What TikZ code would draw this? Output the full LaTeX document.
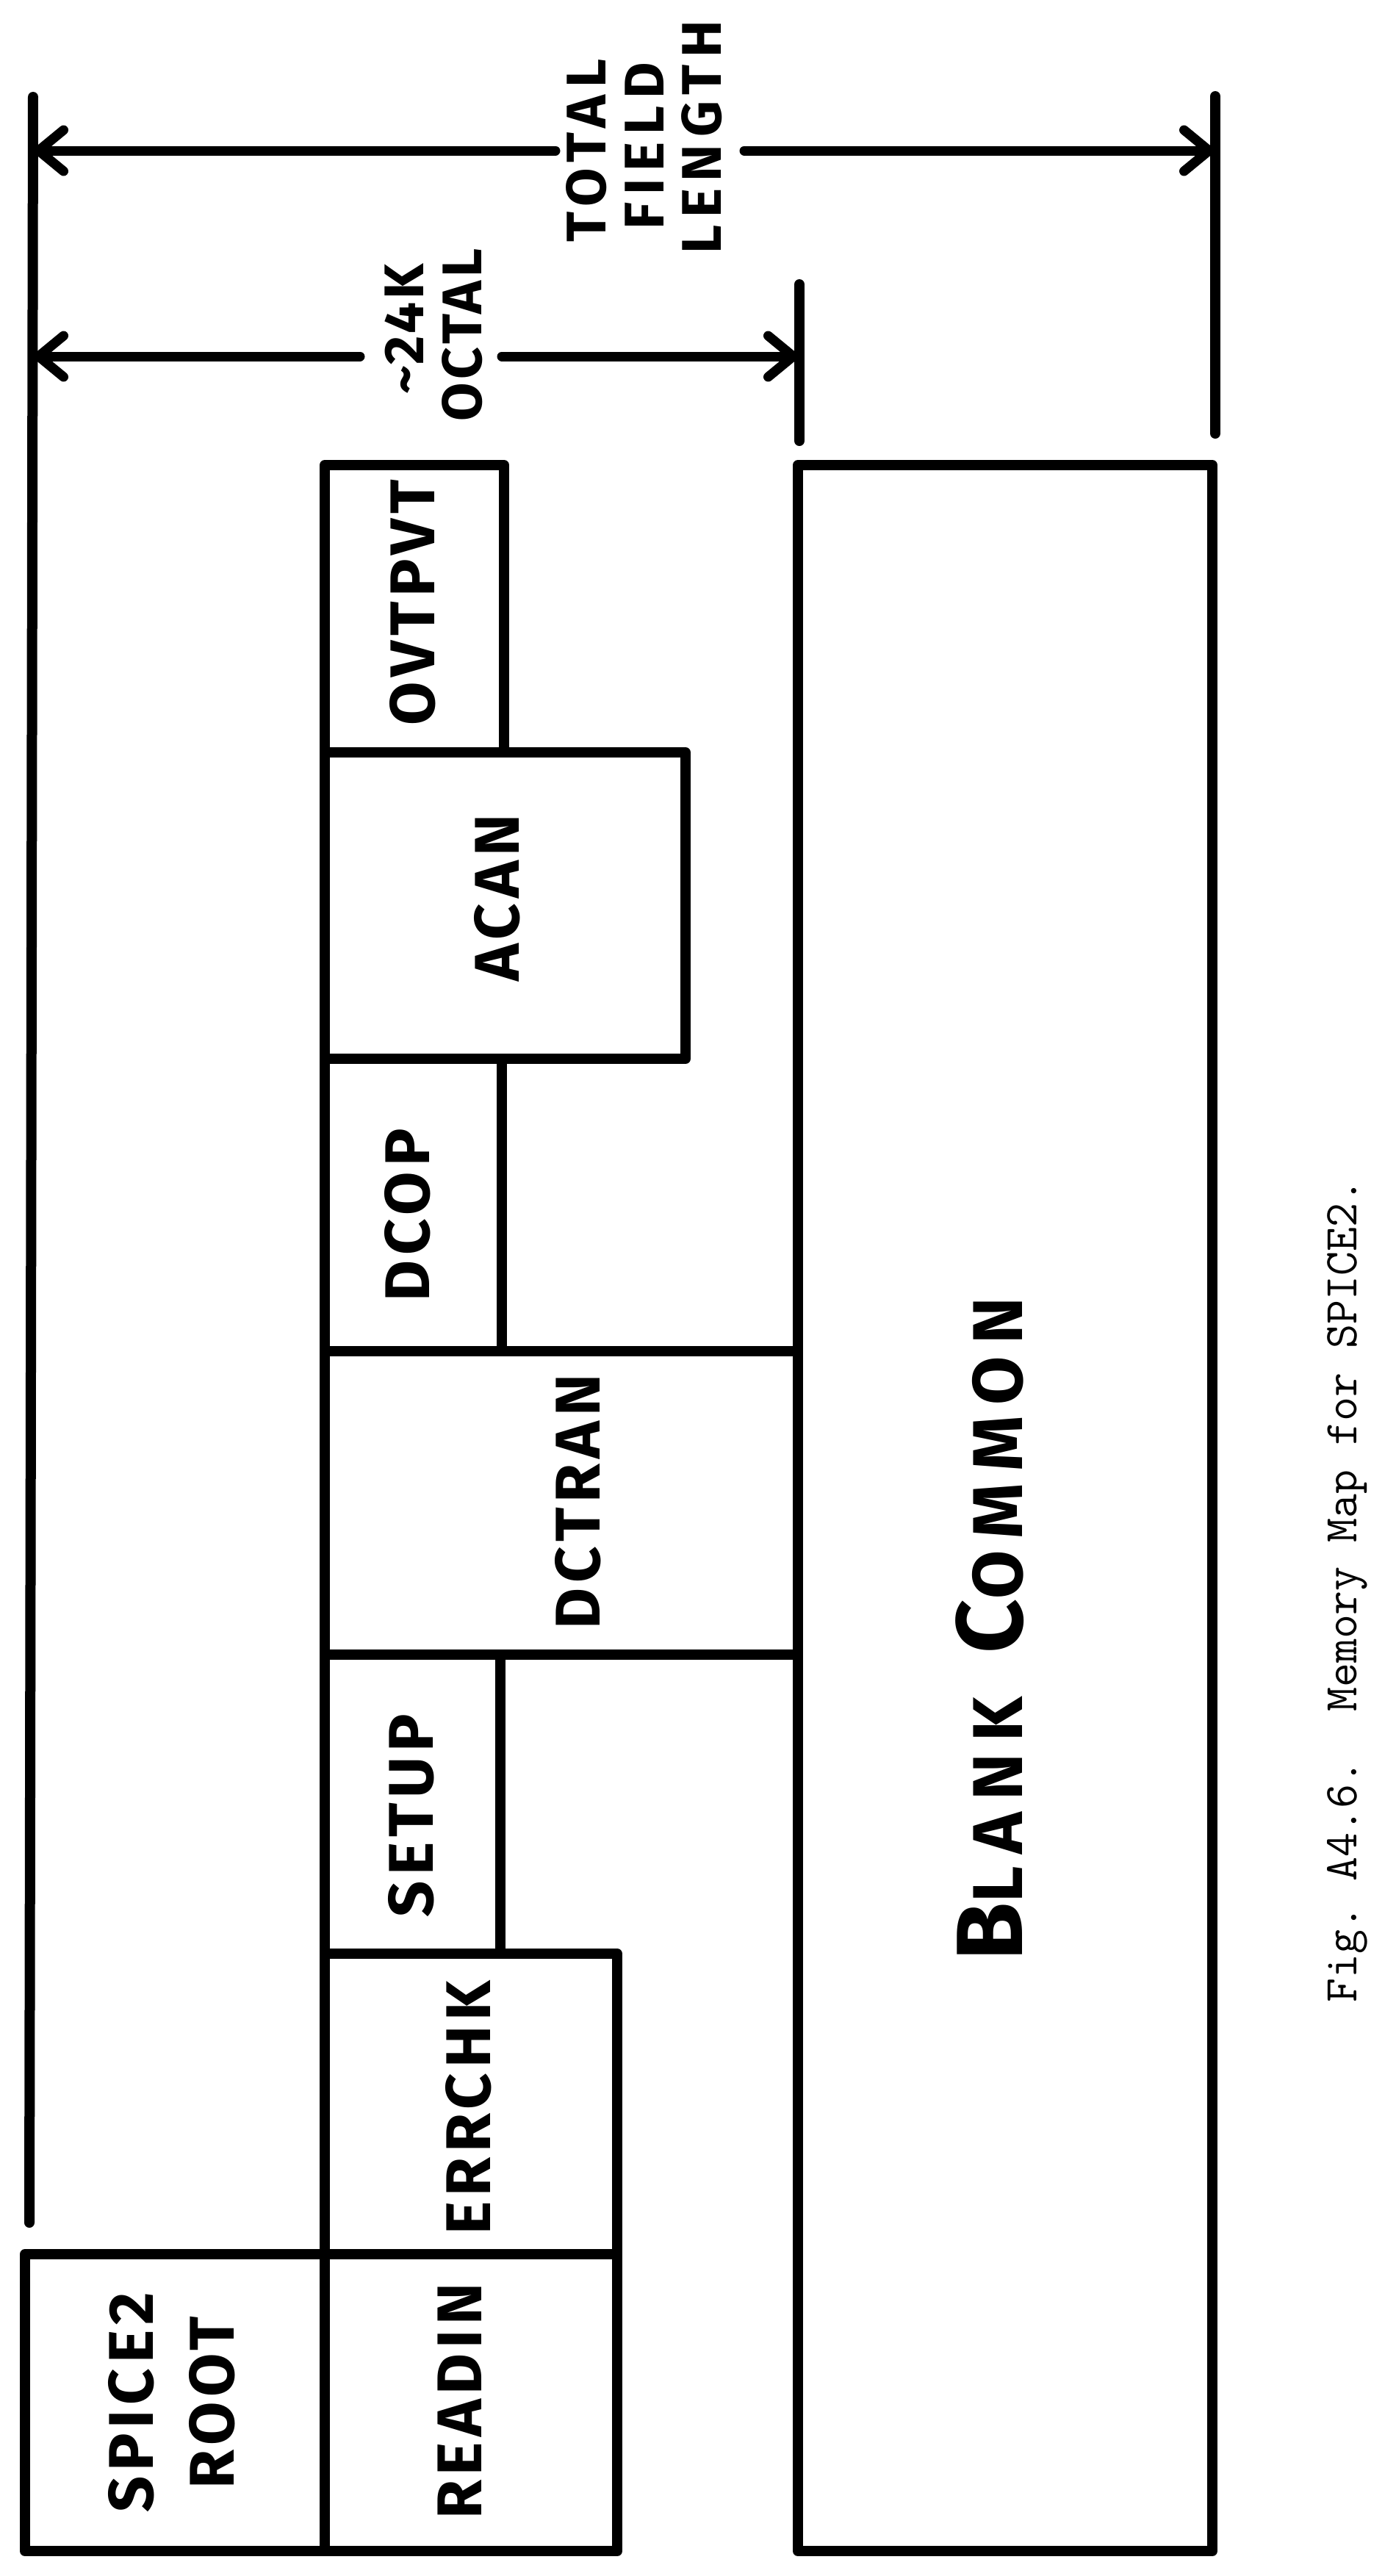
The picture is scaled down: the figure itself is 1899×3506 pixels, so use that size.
\documentclass[tikz,border=0pt]{standalone}
\usepackage{fontspec}
\setsansfont{Fira Sans}
\usetikzlibrary{arrows.meta}
\tikzset{
  ln/.style={line width=14pt, line cap=round},
  box/.style={draw, rectangle, line width=14pt, inner sep=0pt, line join=round},
  dim/.style={line width=13pt, line cap=round, -{Straight Barb[length=34pt, width=56pt, line cap=round, line join=round]}},
  lab/.style={rotate=90, inner sep=0pt, font=\sffamily\bfseries\fontsize{86}{90}\selectfont\addfontfeature{LetterSpace=8}},
  dimlab/.style={rotate=90, inner sep=0pt, font=\sffamily\bfseries\fontsize{76}{80}\selectfont\addfontfeature{LetterSpace=13}},
  octlab/.style={rotate=90, inner sep=0pt, font=\sffamily\bfseries\fontsize{76}{80}\selectfont\addfontfeature{LetterSpace=6}},
  caplab/.style={rotate=90, inner sep=0pt, font=\ttfamily\fontsize{64}{70}\selectfont\addfontfeature{FakeBold=6}}
}
\begin{document}
\begin{tikzpicture}[x=1pt, y=-1pt]
\useasboundingbox (0,0) rectangle (1899,3506);
\fill[white] (0,0) rectangle (1899,3506);

% vertical extent lines
\coordinate (ltop) at (45,132);
\coordinate (lbot) at (40,3025);
\coordinate (rtop) at (1654,131);
\coordinate (rbot) at (1654,590);
\coordinate (mtop) at (1088,387);
\coordinate (mbot) at (1088,600);
\draw[ln] (ltop) -- (lbot);
\draw[ln] (rtop) -- (rbot);
\draw[ln] (mtop) -- (mbot);

% dimension labels
\node[dimlab] (total) at (798,205) {TOTAL};
\node[dimlab] (field) at (877,199) {FIELD};
\node[dimlab] (length) at (955,187) {LENGTH};
\node[octlab] (k24) at (550,448) {\textasciitilde 24K};
\node[octlab] (octal) at (629,456) {OCTAL};

% dimension arrows
\coordinate (a1l) at (46,205);
\coordinate (a1r) at (1652,205);
\coordinate (a1m) at (756,205);
\coordinate (a1n) at (1013,205);
\coordinate (a2l) at (46,485);
\coordinate (a2r) at (1086,485);
\coordinate (a2m) at (490,485);
\coordinate (a2n) at (683,485);
\draw[dim] (a1m) -- (a1l);
\draw[dim] (a1n) -- (a1r);
\draw[dim] (a2m) -- (a2l);
\draw[dim] (a2n) -- (a2r);

% boxes
\node[box, minimum width=244pt, minimum height=391pt] (ovtpvt) at (564,828.5) {};
\node[box, minimum width=491pt, minimum height=417pt] (acan) at (687.5,1232.5) {};
\node[box, minimum width=241pt, minimum height=398pt] (dcop) at (562.5,1640) {};
\node[box, minimum width=644pt, minimum height=413pt] (dctran) at (764,2045.5) {};
\node[box, minimum width=239pt, minimum height=407pt] (setup) at (561.5,2455.5) {};
\node[box, minimum width=398pt, minimum height=409pt] (errchk) at (641,2863.5) {};
\node[box, minimum width=398pt, minimum height=404pt] (readin) at (641,3270) {};
\node[box, minimum width=408pt, minimum height=404pt] (root) at (238,3270) {};
\node[box, minimum width=564pt, minimum height=2839pt] (blank) at (1368,2052.5) {};

% box labels
\node[lab] (ovtpvt-t) at (562,820) {OVTPVT};
\node[lab] (acan-t) at (677,1222) {ACAN};
\node[lab] (dcop-t) at (555,1654) {DCOP};
\node[lab] (dctran-t) at (787,2044) {DCTRAN};
\node[lab] (setup-t) at (560,2471) {SETUP};
\node[lab] (errchk-t) at (638,2869) {ERRCHK};
\node[lab] (readin-t) at (626,3268) {READIN};
\node[lab, align=center] (root-t) at (234,3270) {SPICE2\\[20pt]ROOT};
\node[rotate=90, anchor=base, inner sep=0pt, font=\sffamily\bfseries\fontsize{96}{100}\selectfont\addfontfeature{LetterSpace=17}] (blank-t) at (1391,2217)
  {{\fontsize{128}{130}\selectfont B}LANK\hspace{60pt}{\fontsize{128}{130}\selectfont C}OMMON};

% caption
\node[caplab] (caption) at (1834,2165) {\frenchspacing Fig.\ A4.6.\ \ Memory Map for SPICE2.};
\end{tikzpicture}
\end{document}
